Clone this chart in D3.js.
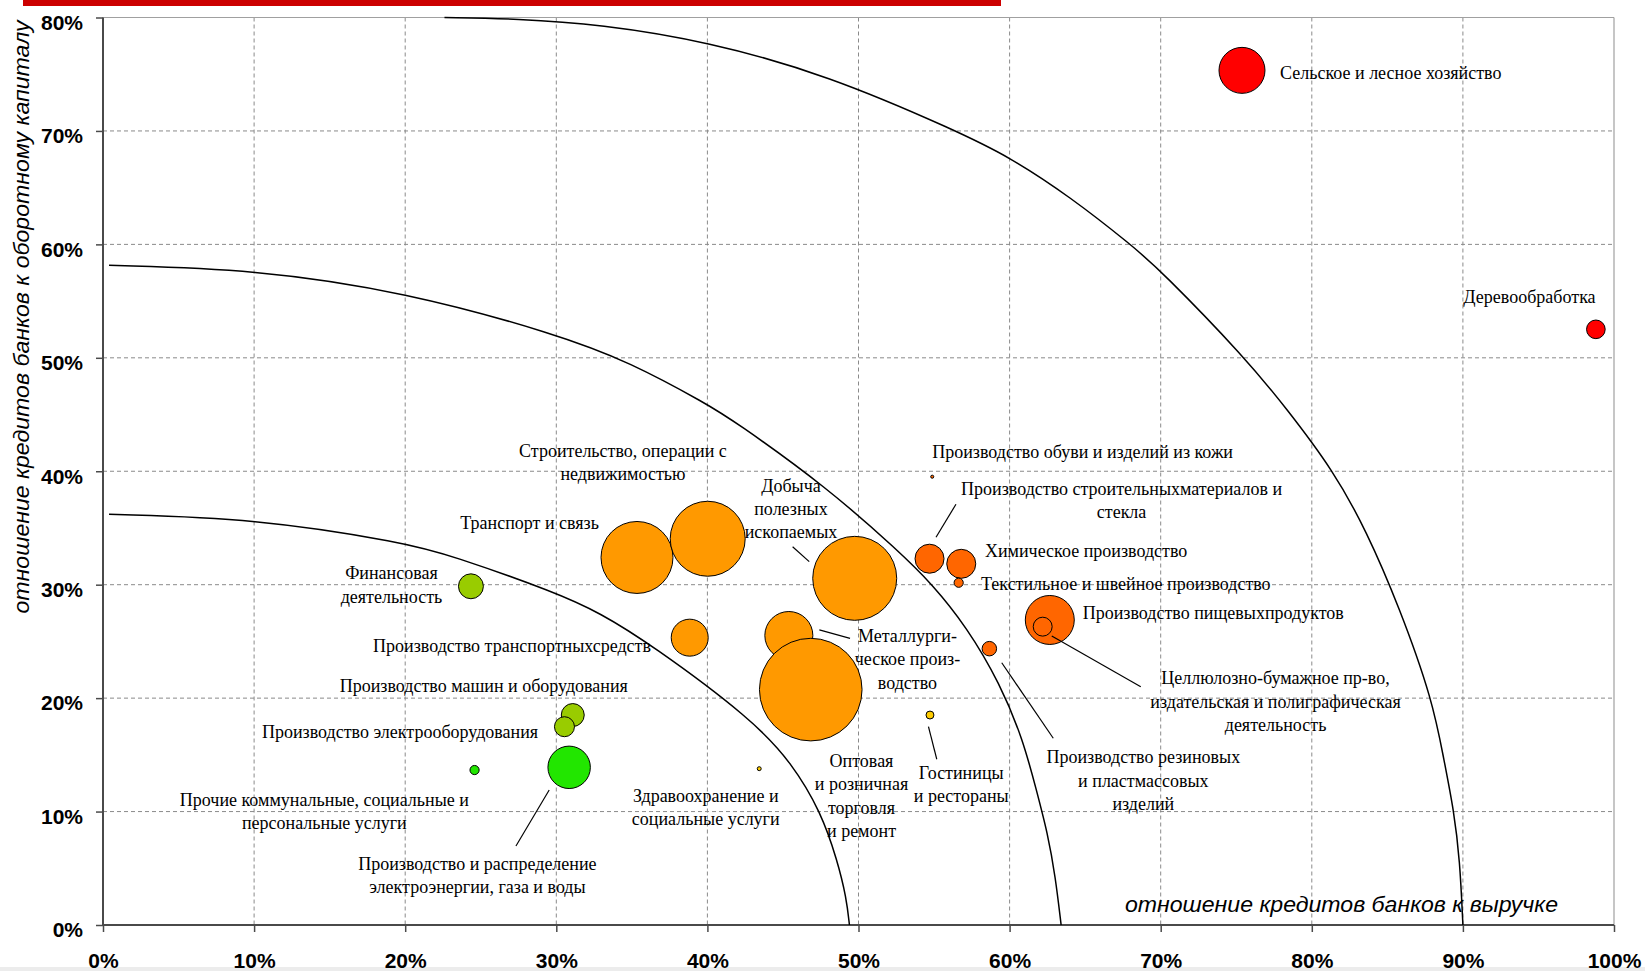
<!DOCTYPE html>
<html>
<head>
<meta charset="utf-8">
<script src="https://cdn.jsdelivr.net/npm/d3@7"></script>
<style>
  html, body { margin: 0; padding: 0; background: #ffffff; }
  svg { display: block; }
</style>
</head>
<body>
<svg id="chart" width="1645" height="971"></svg>
<script>
// Отрасли экономики: отношение кредитов банков к выручке (x, %) и к оборотному капиталу (y, %)
const sectors = [
  "Сельское и лесное хозяйство",
  "Деревообработка",
  "Финансовая деятельность",
  "Производство машин и оборудования",
  "Производство электрооборудования",
  "Производство и распределение электроэнергии, газа и воды",
  "Прочие коммунальные, социальные и персональные услуги",
  "Здравоохранение и социальные услуги",
  "Металлургическое производство",
  "Оптовая и розничная торговля и ремонт",
  "Транспорт и связь",
  "Строительство, операции с недвижимостью",
  "Добыча полезных ископаемых",
  "Производство транспортных средств",
  "Гостиницы и рестораны",
  "Производство обуви и изделий из кожи",
  "Производство строительных материалов и стекла",
  "Химическое производство",
  "Текстильное и швейное производство",
  "Производство пищевых продуктов",
  "Целлюлозно-бумажное пр-во, издательская и полиграфическая деятельность",
  "Производство резиновых и пластмассовых изделий"
];
const creditToRevenue = [75.38, 98.80, 24.35, 31.09, 30.54, 30.85, 24.59, 43.43, 45.39, 46.84, 35.34,
                         40.02, 49.75, 38.83, 54.73, 54.88, 54.70, 56.80, 56.63, 62.66, 62.19, 58.66];
const creditToWorkingCapital = [75.34, 52.51, 29.86, 18.51, 17.48, 13.90, 13.66, 13.78, 25.52, 20.75, 32.40,
                                34.05, 30.56, 25.33, 18.51, 39.52, 32.29, 31.84, 30.17, 26.89, 26.30, 24.36];
// относительный объём кредитов (площадь пузырька)
const creditVolume = [20.1, 3.3, 5.9, 5.0, 3.8, 17.1, 0.8, 0.15, 21.9, 100, 49.2,
                      53.4, 67.0, 13.0, 0.6, 0.09, 8.0, 8.0, 0.8, 22.8, 3.4, 2.0];
const bubbleColors = ["#ff0000", "#ff0000", "#99cc00", "#99cc00", "#99cc00", "#22e600", "#22e600", "#ffcc00",
                      "#ff9900", "#ff9900", "#ff9900", "#ff9900", "#ff9900", "#ff9900", "#ffcc00",
                      "#ff6600", "#ff6600", "#ff6600", "#ff6600", "#ff6600", "#ff6600", "#ff6600"];

const xTicks = [0, 10, 20, 30, 40, 50, 60, 70, 80, 90, 100];
const yTicks = [0, 10, 20, 30, 40, 50, 60, 70, 80];

// Граничные кривые уровней нагрузки
const arcInner = [[0.4, 36.2], [10, 35.85], [20, 33.7], [23, 32.6], [30, 29.3], [32.9, 27.5], [36.2, 24.8],
                  [43.0, 18.1], [45.6, 14.25], [47.5, 10.0], [48.6, 5.7], [49.2, 2.4], [49.4, 0]];
const arcMiddle = [[0.4, 58.15], [10, 57.8], [20, 55.8], [30, 52.1], [34.9, 49.6], [40, 45.9], [41.7, 44.5],
                   [47.9, 38.6], [52.7, 32.9], [54.84, 30.1], [57.16, 26.28], [59.36, 21.3], [60.9, 16.3],
                   [61.77, 11.9], [62.52, 8.08], [63.03, 4.26], [63.41, 0]];
const arcOuter = [[22.6, 80], [27.4, 79.9], [32.9, 79.4], [40, 77.9], [48, 74.9], [56.5, 70], [60, 67.7],
                  [64, 64.2], [68.1, 59.9], [70, 57.7], [75.6, 50], [78.4, 45.4], [81.4, 40.1], [83.6, 34.8],
                  [85.8, 28], [88, 19.8], [88.75, 14.5], [89.4, 10.1], [89.8, 5.7], [90, 0]];

// Подписи: строки текста
const labelLines = [
  ["Сельское и лесное хозяйство"],
  ["Деревообработка"],
  ["Финансовая", "деятельность"],
  ["Строительство, операции с", "недвижимостью"],
  ["Транспорт и связь"],
  ["Добыча", "полезных", "ископаемых"],
  ["Производство транспортныхсредств"],
  ["Производство машин и оборудования"],
  ["Производство электрооборудования"],
  ["Прочие коммунальные, социальные и", "персональные услуги"],
  ["Производство и распределение", "электроэнергии, газа и воды"],
  ["Здравоохранение и", "социальные услуги"],
  ["Оптовая", "и розничная", "торговля", "и ремонт"],
  ["Гостиницы", "и рестораны"],
  ["Металлурги-", "ческое произ-", "водство"],
  ["Производство обуви и изделий из кожи"],
  ["Производство строительныхматериалов и", "стекла"],
  ["Химическое производство"],
  ["Текстильное и швейное производство"],
  ["Производство пищевыхпродуктов"],
  ["Целлюлозно-бумажное пр-во,", "издательская и полиграфическая", "деятельность"],
  ["Производство резиновых", "и пластмассовых", "изделий"]
];
// Подписи: точка привязки в единицах осей и выравнивание
const labelAnchors = [
  [77.90, 74.58, "start"], [90.03, 54.80, "start"], [19.09, 30.47, "middle"], [34.41, 41.28, "middle"],
  [28.23, 34.88, "middle"], [45.53, 38.20, "middle"], [27.07, 24.09, "middle"], [25.20, 20.54, "middle"],
  [19.66, 16.46, "middle"], [14.65, 10.49, "middle"], [24.78, 4.85, "middle"], [39.89, 10.87, "middle"],
  [50.20, 13.95, "middle"], [56.80, 12.87, "middle"], [53.24, 24.97, "middle"], [54.88, 41.19, "start"],
  [67.41, 37.91, "middle"], [58.37, 32.41, "start"], [58.11, 29.53, "start"], [64.84, 26.95, "start"],
  [77.60, 21.22, "middle"], [68.85, 14.25, "middle"]
];
// Выноски от подписей к пузырькам
const leaders = [
  [[56.45, 37.09], [55.13, 34.18]],
  [[62.79, 25.48], [68.68, 21.01]],
  [[59.48, 23.12], [62.89, 16.46]],
  [[54.63, 17.48], [55.18, 14.61]],
  [[47.41, 26.01], [49.44, 25.27]],
  [[45.64, 33.35], [46.74, 32.03]],
  [[29.53, 11.90], [27.33, 6.96]]
];

const svg = d3.select("#chart");
const W = 1645, H = 971;
const plot = { left: 103, right: 1614, top: 17.5, bottom: 925 };

const x = d3.scaleLinear().domain([0, 100]).range([plot.left, plot.right]);
const y = d3.scaleLinear().domain([0, 80]).range([plot.bottom, plot.top]);
const r = d3.scaleSqrt().domain([0, 100]).range([0, 51.3]);
const pct = d => d + "%";

svg.append("rect").attr("width", W).attr("height", H).attr("fill", "#ffffff");
// полоса внизу слайда
svg.append("rect").attr("x", 0).attr("y", 967).attr("width", W).attr("height", 4).attr("fill", "#ececec");
// красная полоса сверху
svg.append("rect").attr("x", 23).attr("y", 0).attr("width", 978).attr("height", 6).attr("fill", "#cc0000");

// сетка
const grid = svg.append("g");
grid.selectAll("line.gx").data(xTicks.filter(t => t > 0 && t < 100)).join("line")
  .attr("x1", d => x(d)).attr("x2", d => x(d))
  .attr("y1", plot.top).attr("y2", plot.bottom)
  .attr("stroke", "#8a8a8a").attr("stroke-width", 1).attr("stroke-dasharray", "4,3");
grid.selectAll("line.gy").data(yTicks.filter(t => t > 0 && t < 80)).join("line")
  .attr("x1", plot.left).attr("x2", plot.right)
  .attr("y1", d => y(d)).attr("y2", d => y(d))
  .attr("stroke", "#8a8a8a").attr("stroke-width", 1).attr("stroke-dasharray", "4,3");

// рамка области построения
svg.append("line").attr("x1", plot.left).attr("x2", plot.right).attr("y1", plot.top).attr("y2", plot.top)
  .attr("stroke", "#a0a0a0").attr("stroke-width", 1.2);
svg.append("line").attr("x1", plot.right).attr("x2", plot.right).attr("y1", plot.top).attr("y2", plot.bottom)
  .attr("stroke", "#a0a0a0").attr("stroke-width", 1.2);

// оси
const xAxis = d3.axisBottom(x).tickValues(xTicks).tickFormat(pct).tickSize(7).tickPadding(21);
const yAxis = d3.axisLeft(y).tickValues(yTicks).tickFormat(pct).tickSize(7).tickPadding(13);

const gx = svg.append("g").attr("transform", `translate(0,${plot.bottom})`).call(xAxis);
const gy = svg.append("g").attr("transform", `translate(${plot.left},0)`).call(yAxis);
[gx, gy].forEach(g => {
  g.select(".domain").attr("stroke", "#4a4a4a").attr("stroke-width", 2);
  g.selectAll(".tick line").attr("stroke", "#4a4a4a").attr("stroke-width", 1.5);
  g.selectAll(".tick text")
    .attr("fill", "#000").style("font-family", "'Liberation Sans', Arial, sans-serif")
    .style("font-size", "21px").style("font-weight", "bold");
});
gy.select(".domain").attr("d", `M0,${plot.bottom}V${plot.top}`);
gx.select(".domain").attr("d", `M${plot.left},0H${plot.right}`);
gy.selectAll(".tick text").attr("y", 0).attr("dy", "0.56em");

// кривые уровней
const line = d3.line().x(d => x(d[0])).y(d => y(d[1])).curve(d3.curveBasis);
svg.append("g").selectAll("path").data([arcInner, arcMiddle, arcOuter]).join("path")
  .attr("d", line).attr("fill", "none").attr("stroke", "#000").attr("stroke-width", 1.5);

// пузырьки
const bubbles = sectors.map((name, i) => ({
  name, xv: creditToRevenue[i], yv: creditToWorkingCapital[i], size: creditVolume[i], color: bubbleColors[i]
}));
svg.append("g").selectAll("circle").data(bubbles).join("circle")
  .attr("cx", d => x(d.xv)).attr("cy", d => y(d.yv)).attr("r", d => Math.max(r(d.size), 1.2))
  .attr("fill", d => d.color).attr("stroke", "#000").attr("stroke-width", 1);

// выноски
svg.append("g").selectAll("line").data(leaders).join("line")
  .attr("x1", d => x(d[0][0])).attr("y1", d => y(d[0][1]))
  .attr("x2", d => x(d[1][0])).attr("y2", d => y(d[1][1]))
  .attr("stroke", "#000").attr("stroke-width", 1.2);

// подписи отраслей
const labels = svg.append("g")
  .style("font-family", "'Liberation Serif', 'Times New Roman', serif")
  .style("font-size", "18px").attr("fill", "#000");
labelLines.forEach((lines, i) => {
  const [lx, ly, anchor] = labelAnchors[i];
  const t = labels.append("text").attr("x", x(lx)).attr("y", y(ly)).attr("text-anchor", anchor);
  lines.forEach((s, j) => {
    t.append("tspan").attr("x", x(lx)).attr("dy", j === 0 ? 0 : 23.4).text(s);
  });
});

// названия осей
svg.append("text")
  .attr("transform", "translate(29,317) rotate(-90)")
  .attr("text-anchor", "middle")
  .attr("textLength", 593).attr("lengthAdjust", "spacingAndGlyphs")
  .style("font-family", "'Liberation Sans', Arial, sans-serif").style("font-style", "italic")
  .style("font-size", "22px").attr("fill", "#000")
  .text("отношение кредитов банков к оборотному капиталу");

svg.append("text")
  .attr("x", 1125).attr("y", 911.7)
  .attr("textLength", 433).attr("lengthAdjust", "spacingAndGlyphs")
  .style("font-family", "'Liberation Sans', Arial, sans-serif").style("font-style", "italic")
  .style("font-size", "22px").attr("fill", "#000")
  .text("отношение кредитов банков к выручке");
</script>
</body>
</html>
